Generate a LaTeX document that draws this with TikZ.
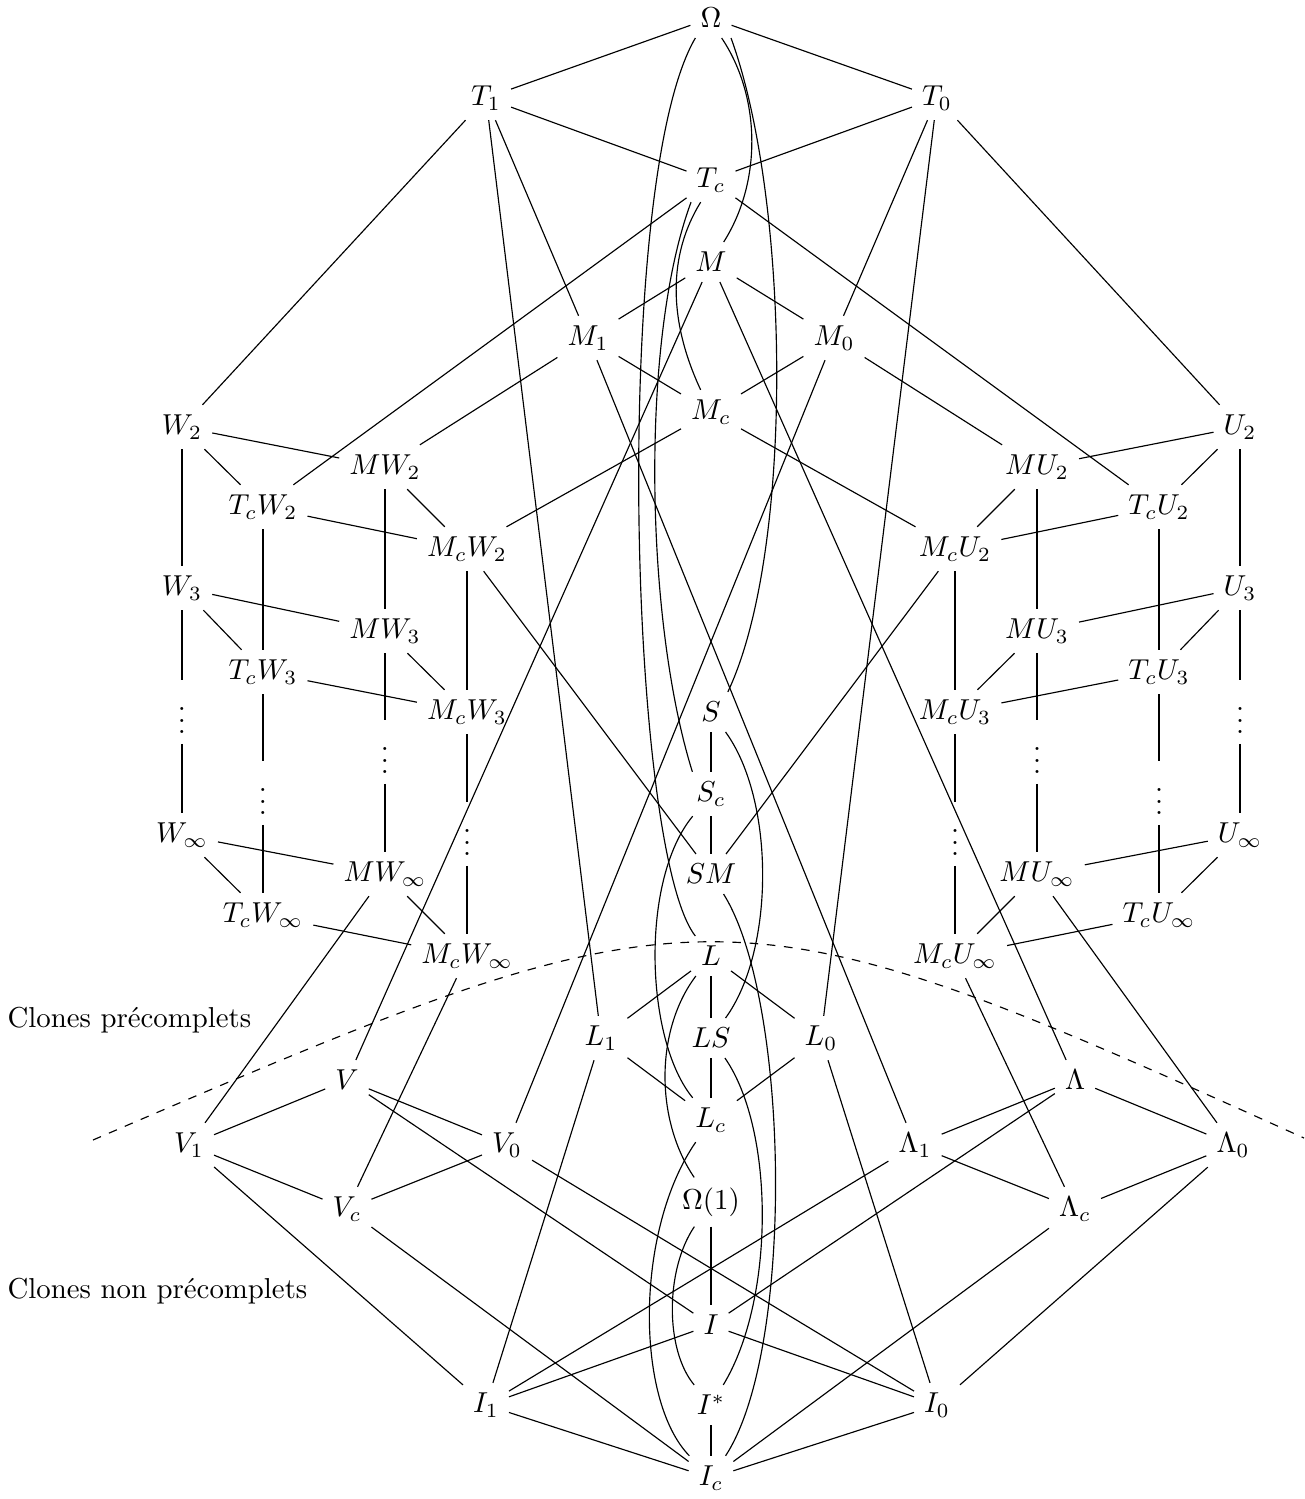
\documentclass[tikz,border=0pt]{standalone}
\begin{document}
\begin{tikzpicture}[x=0.347pt,y=-0.347pt,
  lbl/.style={anchor=west, inner sep=0pt}]
\useasboundingbox (0,0) rectangle (1304,1499);
% top
\node (Om) at (711,18) {$\Omega$};
\node (T1) at (486,98) {$T_1$};
\node (T0) at (937,98) {$T_0$};
\node (Tc) at (711,180) {$T_c$};
\node (M) at (711,262) {$M$};
\node (M1) at (588,338) {$M_1$};
\node (M0) at (834,338) {$M_0$};
\node (Mc) at (711,412) {$M_c$};
% W side
\node (W2) at (182,427) {$W_2$};
\node (MW2) at (385,467) {$MW_2$};
\node (TcW2) at (263,507) {$T_cW_2$};
\node (McW2) at (467,549) {$M_cW_2$};
\node (W3) at (182,588) {$W_3$};
\node (MW3) at (385,631) {$MW_3$};
\node (TcW3) at (263,672) {$T_cW_3$};
\node (McW3) at (467,712) {$M_cW_3$};
\node (Wd) at (182,712) {$\vdots$};
\node (MWd) at (385,752) {$\vdots$};
\node (TcWd) at (263,793) {$\vdots$};
\node (McWd) at (467,834) {$\vdots$};
\node (Wi) at (182,835) {$W_\infty$};
\node (MWi) at (385,874) {$MW_\infty$};
\node (TcWi) at (263,915) {$T_cW_\infty$};
\node (McWi) at (467,956) {$M_cW_\infty$};
% U side
\node (U2) at (1240,427) {$U_2$};
\node (MU2) at (1037,467) {$MU_2$};
\node (TcU2) at (1159,507) {$T_cU_2$};
\node (McU2) at (955,549) {$M_cU_2$};
\node (U3) at (1240,588) {$U_3$};
\node (MU3) at (1037,631) {$MU_3$};
\node (TcU3) at (1159,672) {$T_cU_3$};
\node (McU3) at (955,712) {$M_cU_3$};
\node (Ud) at (1240,712) {$\vdots$};
\node (MUd) at (1037,752) {$\vdots$};
\node (TcUd) at (1159,793) {$\vdots$};
\node (McUd) at (955,834) {$\vdots$};
\node (Ui) at (1240,835) {$U_\infty$};
\node (MUi) at (1037,874) {$MU_\infty$};
\node (TcUi) at (1159,915) {$T_cU_\infty$};
\node (McUi) at (955,956) {$M_cU_\infty$};
% centre
\node (S) at (711,712) {$S$};
\node (Sc) at (711,794) {$S_c$};
\node (SM) at (711,874) {$SM$};
\node (L) at (711,956) {$L$};
\node (L1) at (601,1038) {$L_1$};
\node (LS) at (711,1038) {$LS$};
\node (L0) at (821,1038) {$L_0$};
\node (Lc) at (711,1120) {$L_c$};
% V / Lambda
\node (V) at (347,1080) {$V$};
\node (V1) at (189,1145) {$V_1$};
\node (V0) at (507,1145) {$V_0$};
\node (Vc) at (347,1209) {$V_c$};
\node (La) at (1075,1080) {$\Lambda$};
\node (La1) at (915,1145) {$\Lambda_1$};
\node (La0) at (1233,1145) {$\Lambda_0$};
\node (Lac) at (1075,1209) {$\Lambda_c$};
% bottom
\node (Om1) at (711,1202) {$\Omega(1)$};
\node (I) at (711,1325) {$I$};
\node (I1) at (486,1405) {$I_1$};
\node (Is) at (711,1405) {$I^*$};
\node (I0) at (937,1405) {$I_0$};
\node (Ic) at (711,1478) {$I_c$};
% labels
\node[lbl] (pre) at (7,1020) {Clones précomplets};
\node[lbl] (npre) at (7,1291) {Clones non précomplets};
% dashed separator
\coordinate (dl) at (93,1140);
\coordinate (dr) at (1304,1138);
\draw[dashed] (dl) .. controls (707,876) and (723,876) .. (dr);
% straight edges
\foreach \a/\b in {Om/T1,Om/T0,T1/Tc,T0/Tc,T1/W2,T0/U2,T1/M1,T0/M0,T1/L1,T0/L0,
  Tc/TcW2,Tc/TcU2,M/M1,M/M0,M1/Mc,M0/Mc,M1/MW2,M0/MU2,M/V,M/La,M1/La1,M0/V0,
  Mc/McW2,Mc/McU2,
  W2/MW2,W2/TcW2,W2/W3,MW2/McW2,MW2/MW3,TcW2/McW2,TcW2/TcW3,McW2/McW3,McW2/SM,
  W3/MW3,W3/TcW3,W3/Wd,MW3/McW3,MW3/MWd,TcW3/McW3,TcW3/TcWd,McW3/McWd,
  Wd/Wi,MWd/MWi,TcWd/TcWi,McWd/McWi,Wi/MWi,Wi/TcWi,MWi/McWi,TcWi/McWi,
  MWi/V1,McWi/Vc,
  U2/MU2,U2/TcU2,U2/U3,MU2/McU2,MU2/MU3,TcU2/McU2,TcU2/TcU3,McU2/McU3,McU2/SM,
  U3/MU3,U3/TcU3,U3/Ud,MU3/McU3,MU3/MUd,TcU3/McU3,TcU3/TcUd,McU3/McUd,
  Ud/Ui,MUd/MUi,TcUd/TcUi,McUd/McUi,Ui/MUi,Ui/TcUi,MUi/McUi,TcUi/McUi,
  MUi/La0,McUi/Lac,
  S/Sc,Sc/SM,L/L1,L/LS,L/L0,L1/Lc,LS/Lc,L0/Lc,L1/I1,L0/I0,
  V/V1,V/V0,V1/Vc,V0/Vc,V/I,V1/I1,V0/I0,Vc/Ic,
  La/La1,La/La0,La1/Lac,La0/Lac,La/I,La1/I1,La0/I0,Lac/Ic,
  Om1/I,I/I1,I/I0,I1/Ic,I0/Ic,Is/Ic}
  \draw (\a) -- (\b);
% curved edges
\draw (Om.232) .. controls (612,180) and (628,850) .. (L);
\draw (Om.-62) .. controls (760,95) and (763,180) .. (M);
\draw (Om.-45) .. controls (790,200) and (795,550) .. (S.50);
\draw (Tc.228) .. controls (640,340) and (645,620) .. (Sc.130);
\draw (Tc.245) .. controls (668,255) and (668,320) .. (Mc);
\draw (Sc) .. controls (640,880) and (645,1040) .. (Lc);
\draw (S) .. controls (775,800) and (775,950) .. (LS);
\draw (SM) .. controls (790,1000) and (795,1350) .. (Ic);
\draw (L) .. controls (655,1030) and (655,1120) .. (Om1);
\draw (LS) .. controls (775,1130) and (775,1300) .. (Is);
\draw (Lc) .. controls (635,1230) and (635,1400) .. (Ic);
\draw (Om1) .. controls (665,1270) and (665,1350) .. (Is);
\end{tikzpicture}
\end{document}
